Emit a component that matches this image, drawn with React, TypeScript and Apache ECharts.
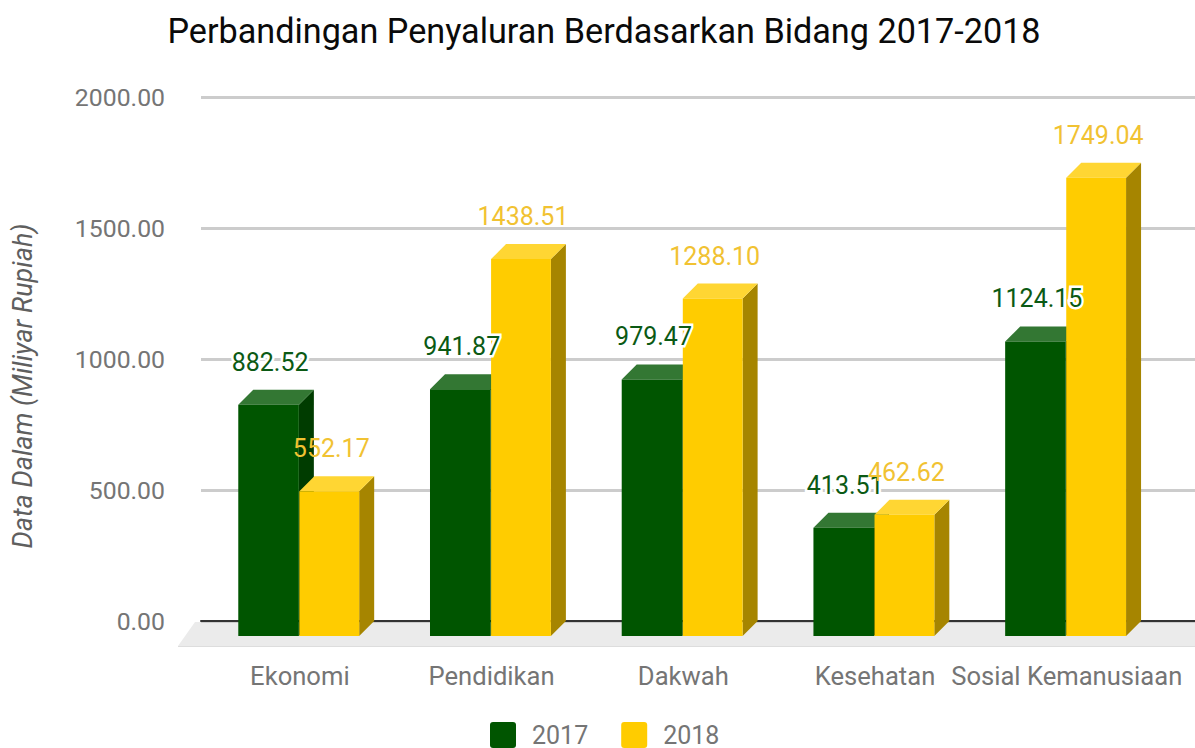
import React, { useEffect, useRef } from "react";
import * as echarts from "echarts";

const categories = ["Ekonomi", "Pendidikan", "Dakwah", "Kesehatan", "Sosial Kemanusiaan"];
const values2017 = [882.52, 941.87, 979.47, 413.51, 1124.15];
const values2018 = [552.17, 1438.51, 1288.1, 462.62, 1749.04];
const yTicks = [0, 500, 1000, 1500, 2000];
const FONT = "Roboto";
const SQUARE = "path://M3 0H23Q26 0 26 3V23Q26 26 23 26H3Q0 26 0 23V3Q0 0 3 0Z";

function barSeries(name: string, data: number[], side: number, front: string, top: string, right: string, labelColor: string, halo: boolean) {
  return {
    type: "custom",
    name,
    xAxisIndex: 1,
    yAxisIndex: 1,
    z: 5,
    itemStyle: { color: front },
    encode: { x: 0, y: 1 },
    data: data.map((v, i) => [i, v]),
    renderItem: (_p: any, api: any) => {
      const cat = api.value(0);
      const val = api.value(1);
      const band = api.size([1, 0])[0];
      const w = band * (side < 0 ? 0.316 : 0.312);
      const d = 15;
      const [cx, yTop0] = api.coord([cat, val]);
      const [, yBase0] = api.coord([cat, 0]);
      const yTop = yTop0 + d;
      const yBase = yBase0 + d;
      const x0 = side < 0 ? cx - w : cx + 0.5;
      const x1 = x0 + w;
      return {
        type: "group",
        children: [
          { type: "polygon", z2: 1, shape: { points: [[x1, yTop], [x1 + d, yTop - d], [x1 + d, yBase - d], [x1, yBase]] }, style: { fill: right } },
          { type: "polygon", z2: 1, shape: { points: [[x0, yTop], [x0 + d, yTop - d], [x1 + d, yTop - d], [x1, yTop]] }, style: { fill: top } },
          { type: "rect", z2: 2, shape: { x: x0, y: yTop, width: w, height: yBase - yTop }, style: { fill: front } },
          {
            type: "text",
            z2: 100,
            x: (x0 + x1) / 2 + (side < 0 ? 1.5 : 2),
            y: yTop - 42.5,
            style: {
              text: val.toFixed(2),
              fill: labelColor,
              stroke: halo ? "#ffffff" : "transparent",
              lineWidth: halo ? 5 : 0,
              strokeFirst: true,
              font: `25px ${FONT}`,
              align: "center",
              verticalAlign: "middle",
            },
          },
        ],
      };
    },
  };
}

export default function App() {
  const ref = useRef<HTMLDivElement>(null);
  useEffect(() => {
    const chart = echarts.init(ref.current!, undefined, { renderer: "svg" });
    chart.setOption({
      animation: false,
      backgroundColor: "#ffffff",
      title: {
        text: "Perbandingan Penyaluran Berdasarkan Bidang 2017-2018",
        left: 599,
        top: 9,
        textAlign: "center",
        textStyle: { fontFamily: FONT, fontSize: 34.2, fontWeight: "normal", color: "#0a0a0a" },
      },
      legend: {
        left: 485,
        top: 717,
        icon: SQUARE,
        itemWidth: 26,
        itemHeight: 26,
        itemGap: 33,
        data: ["2017", "2018"],
        textStyle: { fontFamily: FONT, fontSize: 25, color: "#757575", padding: [6, 0, 0, 11] },
      },
      grid: [
        { left: 201, right: 0, top: 97, height: 524 },
        { left: 203, width: 958.6, top: 97, height: 524 },
      ],
      xAxis: [
        { type: "category", gridIndex: 0, data: categories, z: 2, axisLabel: { show: false }, axisTick: { show: false }, axisLine: { onZero: true, lineStyle: { color: "#333333", width: 2 } } },
        {
          type: "category", gridIndex: 1, data: categories, z: 3,
          axisLine: { show: false }, axisTick: { show: false },
          axisLabel: { interval: 0, margin: 42, padding: [0, 0, 0, 2], fontFamily: FONT, fontSize: 25.6, color: "#757575" },
        },
      ],
      yAxis: [
        {
          type: "value", gridIndex: 0, min: yTicks[0], max: yTicks[4], interval: 500, z: 2,
          axisLine: { show: false }, axisTick: { show: false },
          splitLine: { lineStyle: { color: "#cccccc", width: 3 } },
          axisLabel: { margin: 36, fontFamily: FONT, fontSize: 24.8, color: "#757575", formatter: (v: number) => v.toFixed(2) },
        },
        { type: "value", gridIndex: 1, min: yTicks[0], max: yTicks[4], interval: 500, show: false, splitLine: { show: false } },
      ],
      graphic: [
        { type: "polygon", z: -1, shape: { points: [[195, 622], [1195, 622], [1195, 646], [178, 646]] }, style: { fill: "#ebebeb" } },
        { type: "line", z: -1, shape: { x1: 178, y1: 646.5, x2: 1195, y2: 646.5 }, style: { stroke: "#dddddd", lineWidth: 1 } },
        {
          type: "text", x: 23, y: 386, rotation: Math.PI / 2,
          style: { text: "Data Dalam (Miliyar Rupiah)", fill: "#5f5f5f", font: `italic 27px ${FONT}`, align: "center", verticalAlign: "middle" },
        },
      ],
      series: [
        barSeries("2017", values2017, -1, "#005500", "#337733", "#003c00", "#0b5a14", true),
        barSeries("2018", values2018, 1, "#ffcc00", "#ffd633", "#a68500", "#f1c232", false),
      ],
    });
    return () => chart.dispose();
  }, []);
  return <div ref={ref} style={{ position: "fixed", left: 0, top: 0, width: 1195, height: 748 }} />;
}
